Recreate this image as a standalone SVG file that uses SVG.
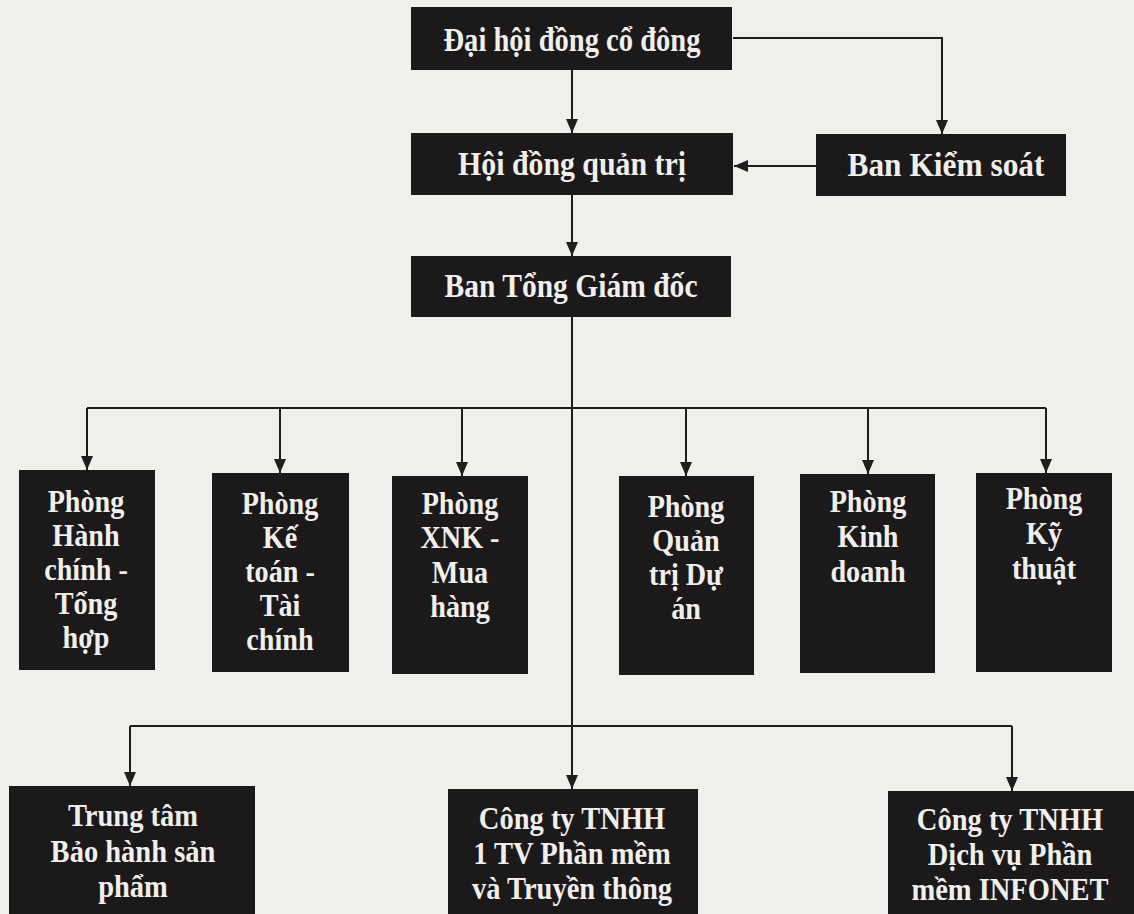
<svg xmlns="http://www.w3.org/2000/svg" width="1134" height="914" viewBox="0 0 1134 914">
<defs>
<style>
.box{fill:#1b191a;}
.t{fill:#f0efec;font-family:"Liberation Serif","Times New Roman",serif;font-weight:bold;text-anchor:middle;}
.t1{font-size:34px;}
.t2{font-size:32px;}
.t3{font-size:31px;}
.ln{stroke:#1e1e1e;stroke-width:2;fill:none;}
</style>
<marker id="ah" markerUnits="userSpaceOnUse" markerWidth="14" markerHeight="12" refX="14" refY="6" orient="auto">
<path d="M0,0 L14,6 L0,12 z" fill="#1e1e1e"/>
</marker>
</defs>
<rect width="1134" height="914" fill="#efefec"/>

<g id="connectors">
<path class="ln" d="M572,70 V133" marker-end="url(#ah)"/>
<path class="ln" d="M733,38 H942 V134" marker-end="url(#ah)"/>
<path class="ln" d="M816,166 H734" marker-end="url(#ah)"/>
<path class="ln" d="M572,195 V256" marker-end="url(#ah)"/>
<path class="ln" d="M572,317 V789" marker-end="url(#ah)"/>
<path class="ln" d="M87,408 H1046"/>
<path class="ln" d="M87,408 V470" marker-end="url(#ah)"/>
<path class="ln" d="M280,408 V473" marker-end="url(#ah)"/>
<path class="ln" d="M462,408 V476" marker-end="url(#ah)"/>
<path class="ln" d="M686,408 V476" marker-end="url(#ah)"/>
<path class="ln" d="M868,408 V474" marker-end="url(#ah)"/>
<path class="ln" d="M1046,408 V473" marker-end="url(#ah)"/>
<path class="ln" d="M130,726 H1012"/>
<path class="ln" d="M130,726 V786" marker-end="url(#ah)"/>
<path class="ln" d="M1012,726 V791" marker-end="url(#ah)"/>
</g>

<g id="dhdcd">
<rect class="box" x="411" y="7" width="321" height="63"/>
<text class="t t1" x="572" y="51" textLength="257" lengthAdjust="spacingAndGlyphs">Đại hội đồng cổ đông</text>
</g>
<g id="hdqt">
<rect class="box" x="411" y="133" width="322" height="62"/>
<text class="t t1" x="572" y="175" textLength="228" lengthAdjust="spacingAndGlyphs">Hội đồng quản trị</text>
</g>
<g id="bks">
<rect class="box" x="816" y="134" width="250" height="62"/>
<text class="t t1" x="946" y="176" textLength="197" lengthAdjust="spacingAndGlyphs">Ban Kiểm soát</text>
</g>
<g id="btgd">
<rect class="box" x="411" y="256" width="320" height="61"/>
<text class="t t1" x="571" y="297" textLength="253" lengthAdjust="spacingAndGlyphs">Ban Tổng Giám đốc</text>
</g>

<g id="p-hcth">
<rect class="box" x="19" y="470" width="136" height="200"/>
<g transform="translate(86,0) scale(0.88,1)"><text class="t t2"><tspan x="0" y="512">Phòng</tspan><tspan x="0" y="546">Hành</tspan><tspan x="0" y="580">chính -</tspan><tspan x="0" y="614">Tổng</tspan><tspan x="0" y="648">hợp</tspan></text></g>
</g>
<g id="p-kttc">
<rect class="box" x="212" y="473" width="137" height="199"/>
<g transform="translate(280,0) scale(0.88,1)"><text class="t t2"><tspan x="0" y="514">Phòng</tspan><tspan x="0" y="548">Kế</tspan><tspan x="0" y="582">toán -</tspan><tspan x="0" y="616">Tài</tspan><tspan x="0" y="650">chính</tspan></text></g>
</g>
<g id="p-xnk">
<rect class="box" x="392" y="476" width="136" height="198"/>
<g transform="translate(460,0) scale(0.88,1)"><text class="t t2"><tspan x="0" y="514">Phòng</tspan><tspan x="0" y="548">XNK -</tspan><tspan x="0" y="583">Mua</tspan><tspan x="0" y="617">hàng</tspan></text></g>
</g>
<g id="p-qtda">
<rect class="box" x="619" y="476" width="135" height="199"/>
<g transform="translate(686,0) scale(0.88,1)"><text class="t t2"><tspan x="0" y="517">Phòng</tspan><tspan x="0" y="551">Quản</tspan><tspan x="0" y="585">trị Dự</tspan><tspan x="0" y="619">án</tspan></text></g>
</g>
<g id="p-kd">
<rect class="box" x="800" y="474" width="135" height="199"/>
<g transform="translate(868,0) scale(0.88,1)"><text class="t t2"><tspan x="0" y="512">Phòng</tspan><tspan x="0" y="547">Kinh</tspan><tspan x="0" y="582">doanh</tspan></text></g>
</g>
<g id="p-kt">
<rect class="box" x="976" y="473" width="136" height="199"/>
<g transform="translate(1044,0) scale(0.88,1)"><text class="t t2"><tspan x="0" y="509">Phòng</tspan><tspan x="0" y="544">Kỹ</tspan><tspan x="0" y="579">thuật</tspan></text></g>
</g>

<g id="ttbh">
<rect class="box" x="9" y="786" width="246" height="140"/>
<g transform="translate(133,0) scale(0.92,1)"><text class="t t3"><tspan x="0" y="826">Trung tâm</tspan><tspan x="0" y="862">Bảo hành sản</tspan><tspan x="0" y="897">phẩm</tspan></text></g>
</g>
<g id="ct-1tv">
<rect class="box" x="448" y="789" width="250" height="140"/>
<g transform="translate(572,0) scale(0.92,1)"><text class="t t3"><tspan x="0" y="829">Công ty TNHH</tspan><tspan x="0" y="864">1 TV Phần mềm</tspan><tspan x="0" y="899">và Truyền thông</tspan></text></g>
</g>
<g id="ct-infonet">
<rect class="box" x="888" y="791" width="250" height="140"/>
<g transform="translate(1010,0) scale(0.92,1)"><text class="t t3"><tspan x="0" y="830">Công ty TNHH</tspan><tspan x="0" y="865">Dịch vụ Phần</tspan><tspan x="0" y="900">mềm INFONET</tspan></text></g>
</g>
</svg>
